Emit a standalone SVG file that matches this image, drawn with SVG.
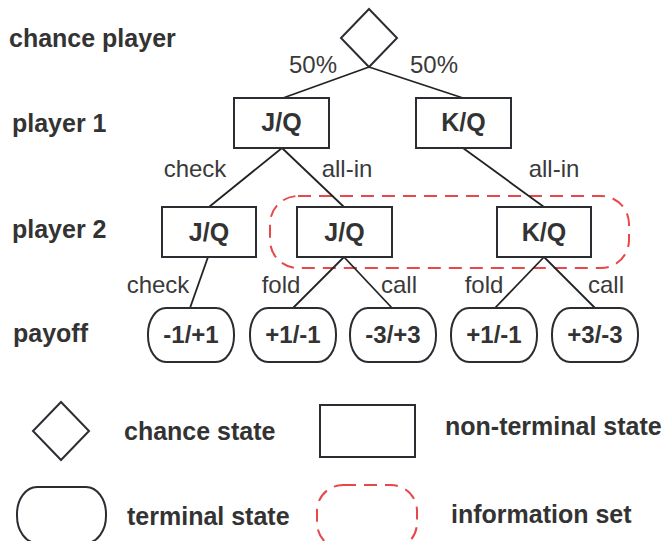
<svg xmlns="http://www.w3.org/2000/svg" width="664" height="541" viewBox="0 0 664 541">
  <style>
    .bg { fill: #ffffff; }
    .shape { fill: #ffffff; stroke: #2a2e33; stroke-width: 2; }
    .edge { stroke: #222222; stroke-width: 1.8; fill: none; }
    .infoset { fill: none; stroke: #e8484a; stroke-width: 2; stroke-dasharray: 13 8; }
    .bold { font-family: "Liberation Sans", Arial, sans-serif; font-weight: bold; font-size: 25px; fill: #333333; }
    .node-text { font-family: "Liberation Sans", Arial, sans-serif; font-weight: bold; font-size: 24px; fill: #333333; text-anchor: middle; }
    .state-text { font-size: 25px; }
    .edge-label { font-family: "Liberation Sans", Arial, sans-serif; font-size: 24px; fill: #3a3a3a; text-anchor: middle; }
  </style>
  <defs>
    <polygon id="diamond" points="0,-29 28,0 0,29 -28,0"/>
  </defs>
  <rect class="bg" x="0" y="0" width="664" height="541"/>

  <!-- row labels -->
  <g id="row-labels">
    <text class="bold" x="9" y="47">chance player</text>
    <text class="bold" x="12" y="132">player 1</text>
    <text class="bold" x="12" y="238">player 2</text>
    <text class="bold" x="13" y="342">payoff</text>
  </g>

  <!-- information set enclosing the two player-2 all-in states -->
  <g id="info-set">
    <rect class="infoset" x="270" y="196" width="359" height="72" rx="28" ry="28"/>
  </g>

  <!-- connectors -->
  <g id="connectors">
    <line class="edge" x1="369" y1="67" x2="283" y2="98"/>
    <line class="edge" x1="369" y1="67" x2="463" y2="98"/>
    <line class="edge" x1="282" y1="148" x2="209" y2="207"/>
    <line class="edge" x1="282" y1="148" x2="344" y2="207"/>
    <line class="edge" x1="463" y1="148" x2="544" y2="207"/>
    <line class="edge" x1="208" y1="257" x2="190" y2="308"/>
    <line class="edge" x1="344" y1="257" x2="293" y2="308"/>
    <line class="edge" x1="344" y1="257" x2="392" y2="308"/>
    <line class="edge" x1="544" y1="257" x2="495" y2="308"/>
    <line class="edge" x1="544" y1="257" x2="595" y2="308"/>
  </g>

  <!-- connector labels -->
  <g id="edge-labels">
    <text class="edge-label" x="313" y="73">50%</text>
    <text class="edge-label" x="434" y="73">50%</text>
    <text class="edge-label" x="195" y="177">check</text>
    <text class="edge-label" x="347" y="177">all-in</text>
    <text class="edge-label" x="554" y="177">all-in</text>
    <text class="edge-label" x="158" y="293">check</text>
    <text class="edge-label" x="281" y="293">fold</text>
    <text class="edge-label" x="399" y="293">call</text>
    <text class="edge-label" x="484" y="293">fold</text>
    <text class="edge-label" x="606" y="293">call</text>
  </g>

  <!-- chance node -->
  <g id="chance">
    <use href="#diamond" class="shape" x="369" y="38"/>
  </g>

  <!-- player 1 states -->
  <g id="p1-jq">
    <rect class="shape" x="234" y="98" width="95" height="50"/>
    <text class="node-text state-text" x="281.5" y="131">J/Q</text>
  </g>
  <g id="p1-kq">
    <rect class="shape" x="416" y="98" width="95" height="50"/>
    <text class="node-text state-text" x="463.5" y="131">K/Q</text>
  </g>

  <!-- player 2 states -->
  <g id="p2-jq-check">
    <rect class="shape" x="162" y="207" width="94" height="50"/>
    <text class="node-text state-text" x="209" y="241">J/Q</text>
  </g>
  <g id="p2-jq-allin">
    <rect class="shape" x="297" y="207" width="95" height="50"/>
    <text class="node-text state-text" x="344.5" y="241">J/Q</text>
  </g>
  <g id="p2-kq-allin">
    <rect class="shape" x="497" y="207" width="94" height="50"/>
    <text class="node-text state-text" x="544" y="241">K/Q</text>
  </g>

  <!-- terminal payoffs -->
  <g id="t1">
    <rect class="shape" x="148" y="308" width="86" height="54" rx="18" ry="26"/>
    <text class="node-text" x="191" y="343">-1/+1</text>
  </g>
  <g id="t2">
    <rect class="shape" x="250" y="308" width="86" height="54" rx="18" ry="26"/>
    <text class="node-text" x="293" y="343">+1/-1</text>
  </g>
  <g id="t3">
    <rect class="shape" x="350" y="308" width="86" height="54" rx="18" ry="26"/>
    <text class="node-text" x="393" y="343">-3/+3</text>
  </g>
  <g id="t4">
    <rect class="shape" x="451" y="308" width="86" height="54" rx="18" ry="26"/>
    <text class="node-text" x="494" y="343">+1/-1</text>
  </g>
  <g id="t5">
    <rect class="shape" x="552" y="308" width="86" height="54" rx="18" ry="26"/>
    <text class="node-text" x="595" y="343">+3/-3</text>
  </g>

  <!-- legend -->
  <g id="legend">
    <use href="#diamond" class="shape" x="61" y="431"/>
    <text class="bold" x="124" y="440">chance state</text>
    <rect class="shape" x="320" y="405" width="95" height="52"/>
    <text class="bold" x="445" y="435">non-terminal state</text>
    <rect class="shape" x="17" y="487" width="89" height="56" rx="20" ry="27"/>
    <text class="bold" x="127" y="525">terminal state</text>
    <rect class="infoset" x="317" y="485" width="100" height="64" rx="26" ry="26"/>
    <text class="bold" x="451" y="523">information set</text>
  </g>
</svg>
